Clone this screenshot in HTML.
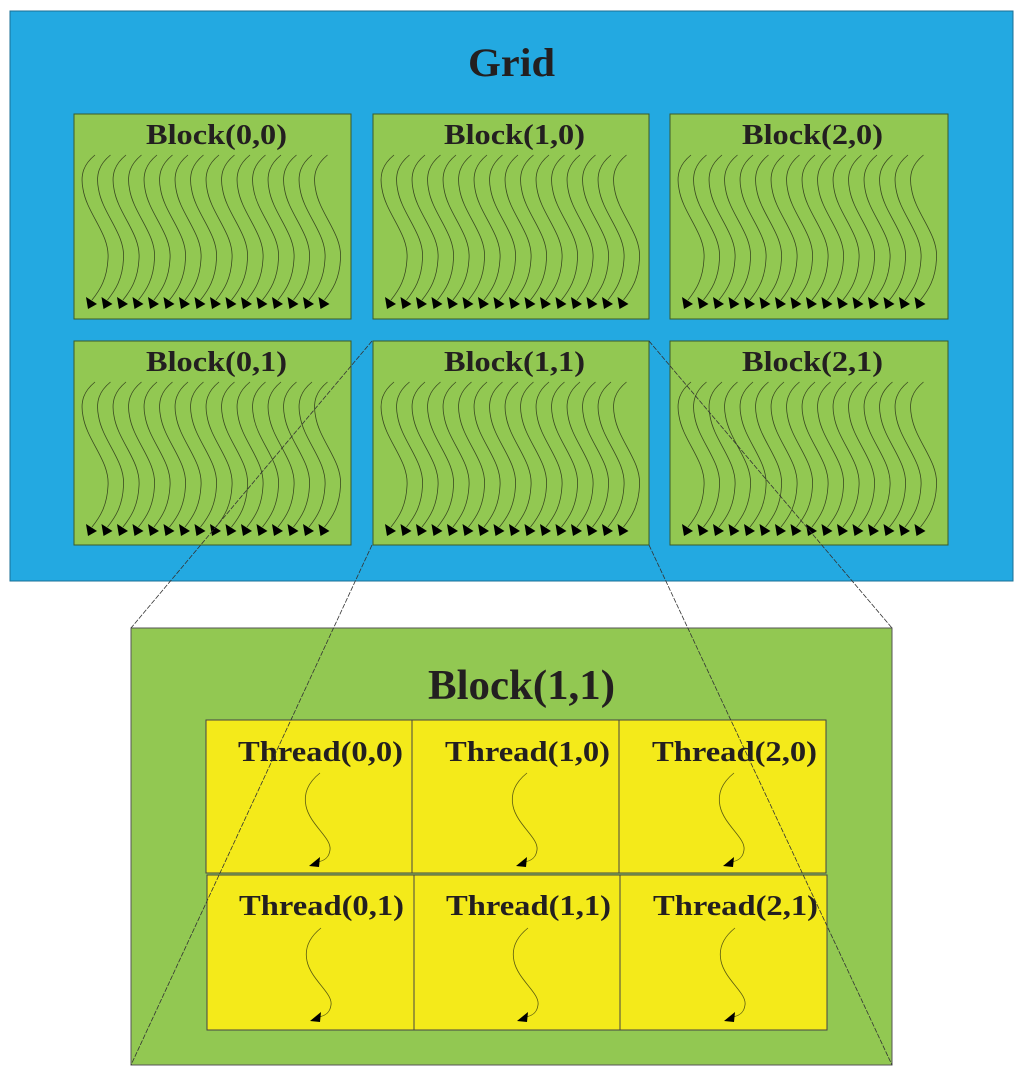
<!DOCTYPE html>
<html><head><meta charset="utf-8"><style>
html,body{margin:0;padding:0;background:#fff;width:1024px;height:1078px;overflow:hidden}
svg{display:block}
text{font-family:"Liberation Serif",serif;font-weight:bold;fill:#231f20}
</style></head><body>
<svg width="1024" height="1078" viewBox="0 0 1024 1078" xmlns="http://www.w3.org/2000/svg">
<defs>
<g id="w">
<path d="M21,41 C10,50 6,60 9,75 C13,100 36,120 34,145 C33,165 26,176 18,186" fill="none" stroke="#3a4a20" stroke-width="0.8"/>
<polygon points="12,183 14,195 23,190" fill="#000"/>
</g>
<g id="wb">
<use href="#w" x="0"/><use href="#w" x="15.5"/><use href="#w" x="31"/><use href="#w" x="46.5"/>
<use href="#w" x="62"/><use href="#w" x="77.5"/><use href="#w" x="93"/><use href="#w" x="108.5"/>
<use href="#w" x="124"/><use href="#w" x="139.5"/><use href="#w" x="155"/><use href="#w" x="170.5"/>
<use href="#w" x="186"/><use href="#w" x="201.5"/><use href="#w" x="217"/><use href="#w" x="232.5"/>
</g>
<g id="t">
<path d="M320,773 C310,781 303,792 306,806 C310,825 332,838 330,850 C329,858 324,861 317,862" fill="none" stroke="#5a5a10" stroke-width="0.8"/>
<polygon points="309,866 320,857 319,867" fill="#000"/>
</g>
</defs>
<rect x="10" y="11" width="1003" height="570" fill="#23a9e1" stroke="#1a6f95" stroke-width="1"/>
<text x="468" y="76" font-size="40" textLength="87" lengthAdjust="spacingAndGlyphs">Grid</text>

<g fill="#92c852" stroke="#3b5a2a" stroke-width="1">
<rect x="74" y="114" width="277" height="205"/>
<rect x="373" y="114" width="276" height="205"/>
<rect x="670" y="114" width="278" height="205"/>
<rect x="74" y="341" width="277" height="204"/>
<rect x="373" y="341" width="276" height="204"/>
<rect x="670" y="341" width="278" height="204"/>
</g>
<g font-size="29">
<text x="146" y="144" textLength="141" lengthAdjust="spacingAndGlyphs">Block(0,0)</text>
<text x="444" y="144" textLength="141" lengthAdjust="spacingAndGlyphs">Block(1,0)</text>
<text x="742" y="144" textLength="141" lengthAdjust="spacingAndGlyphs">Block(2,0)</text>
<text x="146" y="371" textLength="141" lengthAdjust="spacingAndGlyphs">Block(0,1)</text>
<text x="444" y="371" textLength="141" lengthAdjust="spacingAndGlyphs">Block(1,1)</text>
<text x="742" y="371" textLength="141" lengthAdjust="spacingAndGlyphs">Block(2,1)</text>
</g>
<use href="#wb" x="74" y="114"/>
<use href="#wb" x="373" y="114"/>
<use href="#wb" x="670" y="114"/>
<use href="#wb" x="74" y="341"/>
<use href="#wb" x="373" y="341"/>
<use href="#wb" x="670" y="341"/>

<rect x="131" y="628" width="761" height="437" fill="#92c852" stroke="#555" stroke-width="1"/>
<text x="428" y="699" font-size="42" textLength="187" lengthAdjust="spacingAndGlyphs">Block(1,1)</text>
<g fill="#f4ea1a" stroke="#444" stroke-width="1">
<rect x="206" y="720" width="206" height="153"/>
<rect x="412" y="720" width="207" height="153"/>
<rect x="619" y="720" width="207" height="153"/>
<rect x="207" y="875" width="207" height="155"/>
<rect x="414" y="875" width="206" height="155"/>
<rect x="620" y="875" width="207" height="155"/>
</g>
<g font-size="29">
<text x="238" y="761" textLength="165" lengthAdjust="spacingAndGlyphs">Thread(0,0)</text>
<text x="445" y="761" textLength="165" lengthAdjust="spacingAndGlyphs">Thread(1,0)</text>
<text x="652" y="761" textLength="165" lengthAdjust="spacingAndGlyphs">Thread(2,0)</text>
<text x="239" y="915" textLength="165" lengthAdjust="spacingAndGlyphs">Thread(0,1)</text>
<text x="446" y="915" textLength="165" lengthAdjust="spacingAndGlyphs">Thread(1,1)</text>
<text x="653" y="915" textLength="165" lengthAdjust="spacingAndGlyphs">Thread(2,1)</text>
</g>
<use href="#t" x="0" y="0"/>
<use href="#t" x="207" y="0"/>
<use href="#t" x="414" y="0"/>
<use href="#t" x="1" y="155"/>
<use href="#t" x="208" y="155"/>
<use href="#t" x="415" y="155"/>

<g stroke="#333" stroke-width="0.8" stroke-dasharray="5,1.5" fill="none">
<line x1="372" y1="341" x2="131" y2="628"/>
<line x1="372" y1="545" x2="131" y2="1065"/>
<line x1="649" y1="341" x2="892" y2="628"/>
<line x1="649" y1="545" x2="892" y2="1065"/>
</g>
</svg>
</body></html>
